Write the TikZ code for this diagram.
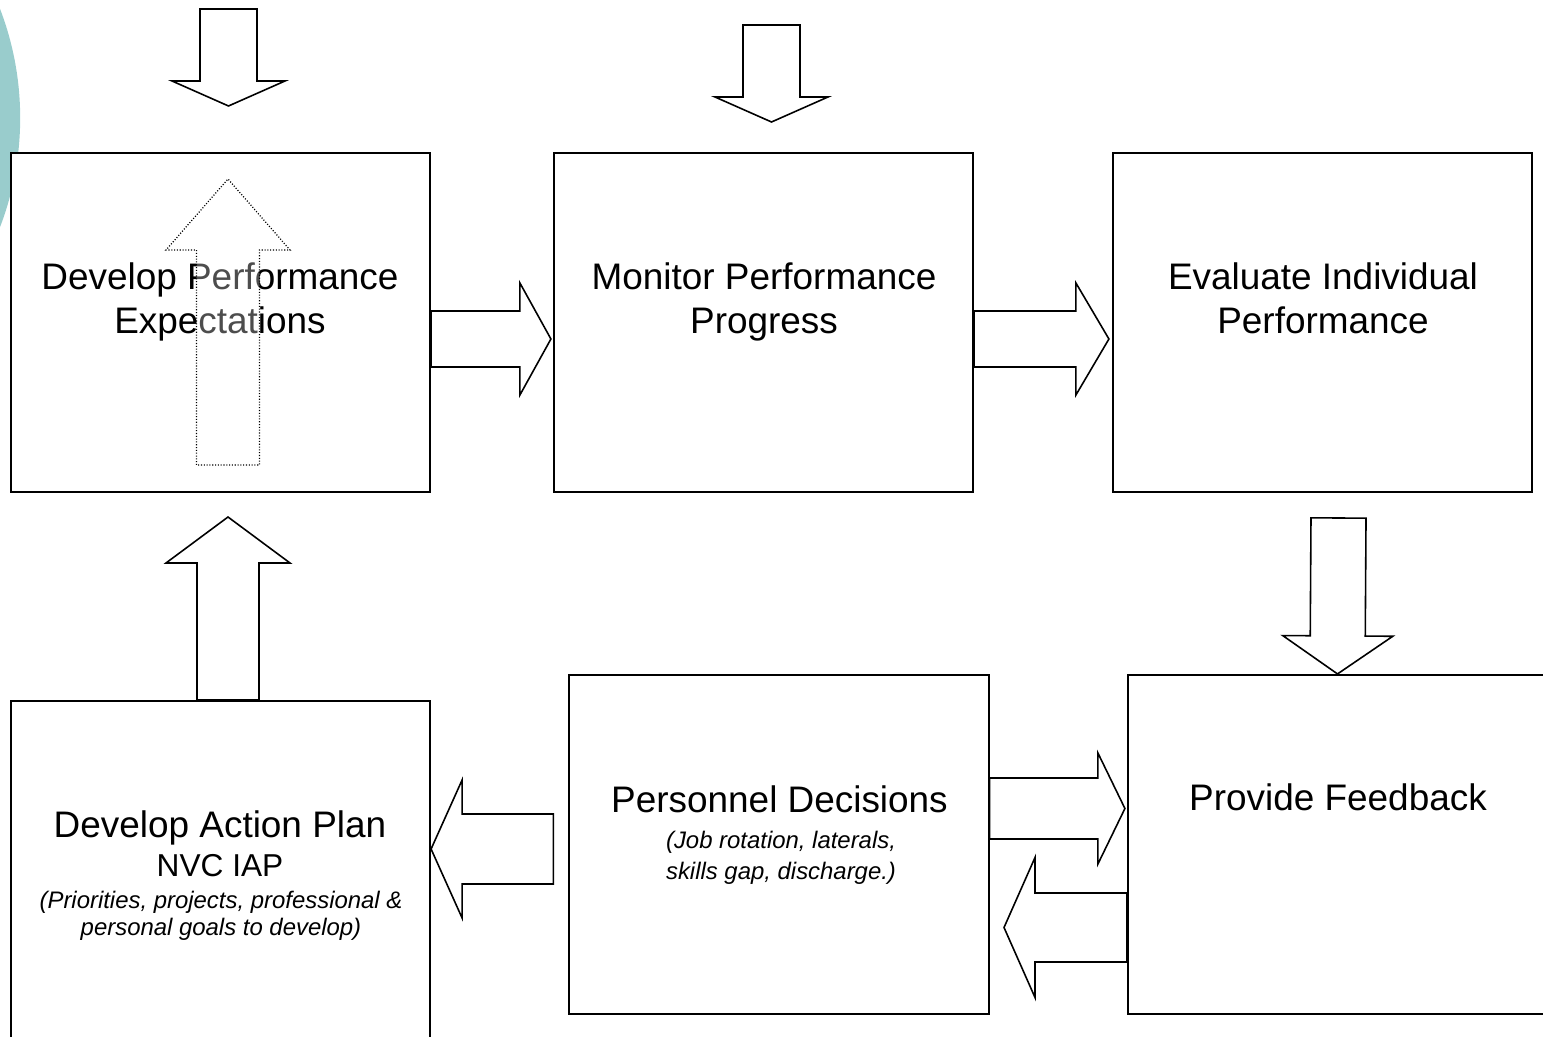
\documentclass[tikz,border=0pt]{standalone}
\usepackage{fontspec}
\setmainfont{Liberation Sans}
\usepackage{xcolor}
\usepackage{tikz}
\usetikzlibrary{calc,positioning}

\definecolor{tealpale}{RGB}{153,204,204}

% hollow block arrow: [style]{tail}{tip}{shaft half width}{head half width}{head length}
\newcommand{\blockarrow}[6][]{%
  \coordinate (ba-base) at ($(#3)!#6!(#2)$);
  \draw[blockarr,#1] ($(#2)!#4!90:(#3)$) -- ($(ba-base)!#4!90:(#3)$)
    -- ($(ba-base)!#5!90:(#3)$) -- (#3) -- ($(ba-base)!#5!-90:(#3)$)
    -- ($(ba-base)!#4!-90:(#3)$) -- ($(#2)!#4!-90:(#3)$) -- cycle;
}

\begin{document}
\begin{tikzpicture}[x=0.01cm, y=-0.01cm,
  stage/.style={draw, line width=0.55pt, fill=white, minimum width=4.19cm,
    minimum height=3.39cm, inner sep=0pt},
  title/.style={align=center, inner sep=0pt,
    font=\fontsize{10.5}{12.5}\selectfont},
  note/.style={align=center, inner sep=0pt,
    font=\fontsize{6.8}{7.7}\selectfont\itshape},
  blockarr/.style={draw, line width=0.45pt, fill=white, line join=miter},
  ghost/.style={line width=0.35pt, dash pattern=on 0.3pt off 0.5pt,
    fill opacity=0.3}
]
\useasboundingbox (0,0) rectangle (1543,1037);
\clip (0,0) rectangle (1543,1037);

% Backdrop disc
\fill[tealpale] (-284,118) circle (3.04cm);

% Stages
\node[stage] (dpe) at (220.5,322.5) {};
\node[stage] (mpp) at (763.5,322.5) {};
\node[stage] (eip) at (1322.5,322.5) {};
\node[stage] (dap) at (220.5,870.5) {};
\node[stage] (pd) at (779,844.5) {};
\node[stage] (pf) at (1337.5,844.5) {};

% Stage texts
\node[title] (dpe-t) at (220,302) {Develop Performance\\Expectations};
\node[title] (mpp-t) at (764,302) {Monitor Performance\\Progress};
\node[title] (eip-t) at (1323,298) {Evaluate Individual\\Performance};
\node[title] (pf-t) at (1338,797.5) {Provide Feedback};
\node[title] (pd-t) at (779.5,799.5) {Personnel Decisions};
\node[note, font=\fontsize{6.8}{8.8}\selectfont\itshape] (pd-n) at (781,858)
  {(Job rotation, laterals,\\skills gap, discharge.)};
\node[title] (dap-t) at (220,828) {Develop Action Plan};
\node[title, font=\fontsize{9}{10}\selectfont] (dap-s) at (220,866) {NVC IAP};
\node[note] (dap-n) at (221,916)
  {(Priorities, projects, professional \&\\personal goals to develop)};

% Inputs from above
\coordinate (in1) at (228.5,9);
\coordinate (in1-tip) at (228.5,106);
\coordinate (in2) at (771.5,25);
\coordinate (in2-tip) at (771.5,122);
\blockarrow{in1}{in1-tip}{0.285cm}{0.565cm}{0.25cm}
\blockarrow{in2}{in2-tip}{0.285cm}{0.565cm}{0.25cm}

% Top row
\coordinate (r1) at ($(dpe.east)+(0,16.5)$);
\coordinate (r1-tip) at ($(mpp.west)+(-2,16.5)$);
\coordinate (r2) at ($(mpp.east)+(0,16.5)$);
\coordinate (r2-tip) at ($(eip.west)+(-3,16.5)$);
\blockarrow{r1}{r1-tip}{0.28cm}{0.56cm}{0.31cm}
\blockarrow{r2}{r2-tip}{0.28cm}{0.56cm}{0.33cm}

% Evaluation down to feedback
\coordinate (d1) at (1338.5,518);
\blockarrow{d1}{pf.north}{0.275cm}{0.55cm}{0.38cm}

% Feedback loop
\coordinate (f1) at ($(pd.east)+(0,-36)$);
\coordinate (f1-tip) at ($(pf.west)+(-2,-36)$);
\coordinate (f2) at ($(pf.west)+(0,83)$);
\coordinate (f2-tip) at (1004,927.5);
\blockarrow{f1}{f1-tip}{0.305cm}{0.555cm}{0.27cm}
\blockarrow{f2}{f2-tip}{0.345cm}{0.70cm}{0.31cm}

% Decisions to action plan
\coordinate (l1) at ($(pd.west)+(-15,4.5)$);
\coordinate (l1-tip) at ($(dap.east)+(0,-21.5)$);
\blockarrow{l1}{l1-tip}{0.35cm}{0.69cm}{0.31cm}

% Action plan back up
\coordinate (u1) at ($(dap.north)+(7.5,0)$);
\coordinate (u1-tip) at (228,517);
\blockarrow{u1}{u1-tip}{0.31cm}{0.62cm}{0.46cm}

% Faint arrow over the first stage
\coordinate (g1) at (228,465);
\coordinate (g1-tip) at (228,179);
\blockarrow[ghost]{g1}{g1-tip}{0.315cm}{0.62cm}{0.71cm}

\end{tikzpicture}
\end{document}
